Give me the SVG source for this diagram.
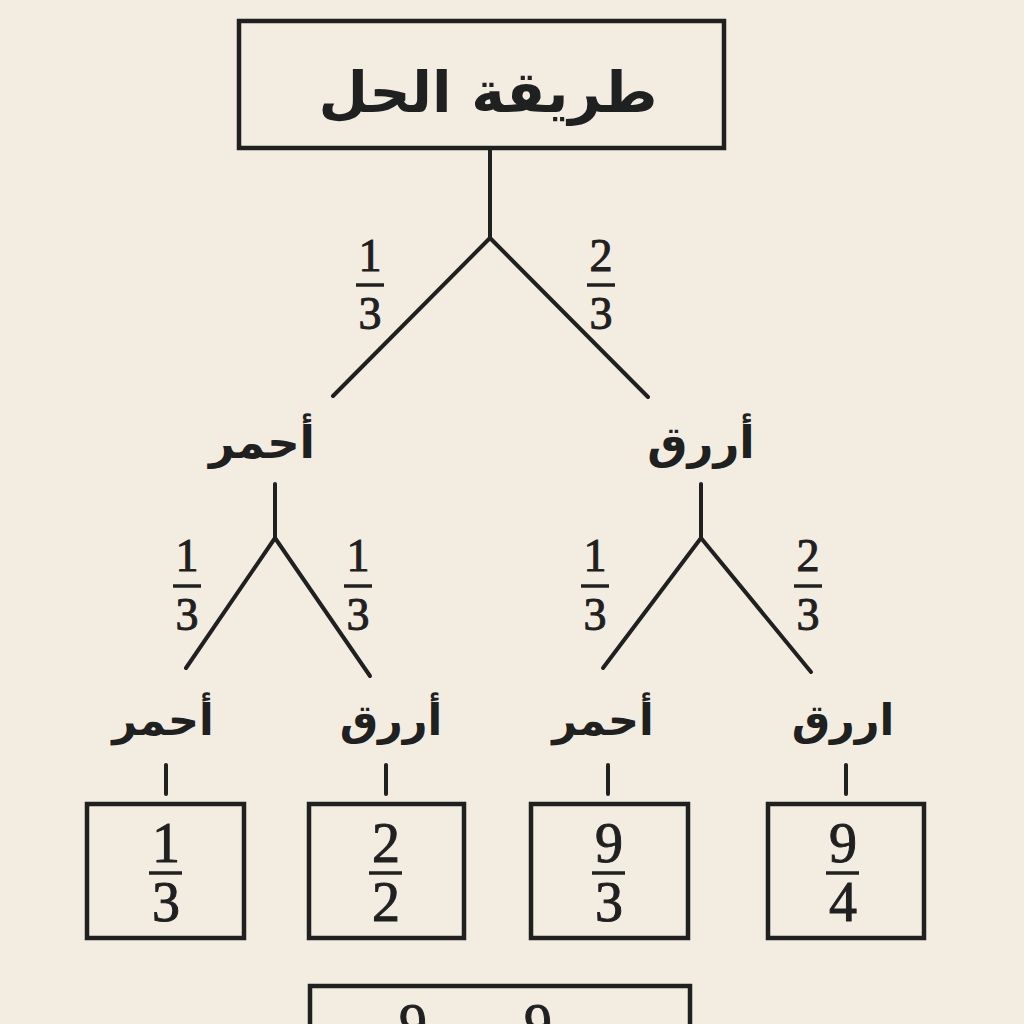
<svg xmlns="http://www.w3.org/2000/svg" width="1024" height="1024" viewBox="0 0 1024 1024">
<style>
.bg{fill:#f3ede1}
.box{fill:#f3ede1;stroke:#1f2020;stroke-width:4.5}
.ln{stroke:#1f2020;stroke-width:4;stroke-linecap:round;fill:none}
.bar{stroke:#1f2020;stroke-width:3.5}
.ar{font-family:"DejaVu Sans",sans-serif;font-weight:bold;fill:#1f2020;text-anchor:middle;direction:rtl}
.num{font-family:"Liberation Serif",serif;fill:#1f2020;stroke:#1f2020;stroke-width:1;text-anchor:middle}
.t{font-size:46px}
.b{font-size:56px}
</style>
<rect class="bg" x="0" y="0" width="1024" height="1024"/>
<g id="connectors">
<line class="ln" x1="490" y1="150" x2="490" y2="238"/>
<line class="ln" x1="490" y1="238" x2="333" y2="396"/>
<line class="ln" x1="490" y1="238" x2="648" y2="397"/>
<line class="ln" x1="275" y1="484" x2="275" y2="538"/>
<line class="ln" x1="275" y1="538" x2="186" y2="668"/>
<line class="ln" x1="275" y1="538" x2="370" y2="676"/>
<line class="ln" x1="701" y1="484" x2="701" y2="538"/>
<line class="ln" x1="701" y1="538" x2="603" y2="668"/>
<line class="ln" x1="701" y1="538" x2="811" y2="672"/>
<line class="ln" x1="166" y1="765" x2="166" y2="794"/>
<line class="ln" x1="386" y1="765" x2="386" y2="794"/>
<line class="ln" x1="608" y1="765" x2="608" y2="794"/>
<line class="ln" x1="846" y1="765" x2="846" y2="794"/>
</g>
<g id="title">
<rect class="box" x="239" y="21" width="485" height="127"/>
<text class="ar" x="488" y="112" font-size="57">طريقة الحل</text>
</g>
<g id="p-root-left">
<text class="num t" x="370" y="271">1</text>
<line class="bar" x1="356" y1="285" x2="384" y2="285"/>
<text class="num t" x="370" y="329">3</text>
</g>
<g id="p-root-right">
<text class="num t" x="601" y="271">2</text>
<line class="bar" x1="587" y1="285" x2="615" y2="285"/>
<text class="num t" x="601" y="329">3</text>
</g>
<g id="n-red">
<text class="ar" x="262" y="458" font-size="45">أحمر</text>
</g>
<g id="n-blue">
<text class="ar" x="701" y="458" font-size="45">أررق</text>
</g>
<g id="p-red-left">
<text class="num t" x="187" y="571">1</text>
<line class="bar" x1="173" y1="586" x2="201" y2="586"/>
<text class="num t" x="187" y="630">3</text>
</g>
<g id="p-red-right">
<text class="num t" x="358" y="571">1</text>
<line class="bar" x1="344" y1="586" x2="372" y2="586"/>
<text class="num t" x="358" y="630">3</text>
</g>
<g id="p-blue-left">
<text class="num t" x="595" y="571">1</text>
<line class="bar" x1="581" y1="586" x2="609" y2="586"/>
<text class="num t" x="595" y="630">3</text>
</g>
<g id="p-blue-right">
<text class="num t" x="808" y="571">2</text>
<line class="bar" x1="794" y1="586" x2="822" y2="586"/>
<text class="num t" x="808" y="630">3</text>
</g>
<g id="leaf1-label"><text class="ar" x="163" y="735" font-size="43">أحمر</text></g>
<g id="leaf2-label"><text class="ar" x="391" y="735" font-size="43">أررق</text></g>
<g id="leaf3-label"><text class="ar" x="603" y="735" font-size="43">أحمر</text></g>
<g id="leaf4-label"><text class="ar" x="843" y="735" font-size="43">اررق</text></g>
<g id="leaf1">
<rect class="box" x="87" y="804" width="157" height="134"/>
<text class="num b" x="166" y="862">1</text>
<line class="bar" x1="149" y1="873" x2="182" y2="873"/>
<text class="num b" x="166" y="921">3</text>
</g>
<g id="leaf2">
<rect class="box" x="309" y="804" width="155" height="134"/>
<text class="num b" x="386" y="862">2</text>
<line class="bar" x1="369" y1="873" x2="402" y2="873"/>
<text class="num b" x="386" y="921">2</text>
</g>
<g id="leaf3">
<rect class="box" x="531" y="804" width="157" height="134"/>
<text class="num b" x="609" y="862">9</text>
<line class="bar" x1="592" y1="873" x2="625" y2="873"/>
<text class="num b" x="609" y="921">3</text>
</g>
<g id="leaf4">
<rect class="box" x="768" y="804" width="156" height="134"/>
<text class="num b" x="843" y="862">9</text>
<line class="bar" x1="826" y1="873" x2="859" y2="873"/>
<text class="num b" x="843" y="921">4</text>
</g>
<g id="result">
<rect class="box" x="310" y="986" width="380" height="80"/>
<text class="num b" x="413" y="1043">9</text>
<text class="num b" x="538" y="1043">9</text>
</g>
</svg>
